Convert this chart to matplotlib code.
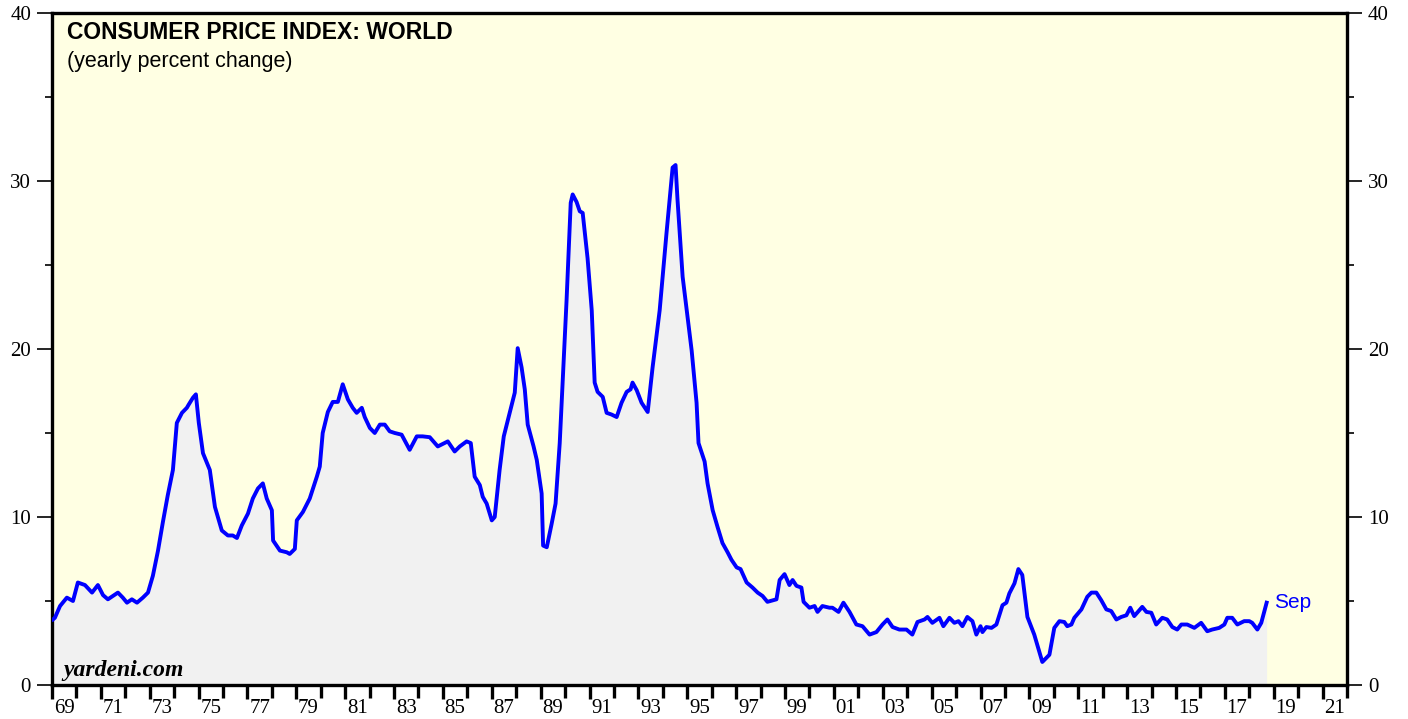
import matplotlib
matplotlib.use('Agg')
import matplotlib.pyplot as plt
import matplotlib.transforms as mtransforms

# yearly percent change of world CPI (decimal years)
years = [1969.04, 1969.12, 1969.33, 1969.61, 1969.86, 1970.06, 1970.35, 1970.64, 1970.88,
         1971.09, 1971.29, 1971.70, 1971.90, 1972.07, 1972.27, 1972.48, 1972.72, 1972.93,
         1973.13, 1973.34, 1973.54, 1973.74, 1973.95, 1974.11, 1974.32, 1974.52, 1974.60,
         1974.77, 1974.89, 1975.01, 1975.18, 1975.46, 1975.67, 1975.95, 1976.20, 1976.40,
         1976.57, 1976.77, 1977.02, 1977.22, 1977.43, 1977.63, 1977.79, 1978.00, 1978.05,
         1978.33, 1978.61, 1978.73, 1978.94, 1979.02, 1979.27, 1979.55, 1979.84, 1979.96,
         1980.08, 1980.29, 1980.49, 1980.70, 1980.90, 1981.11, 1981.31, 1981.47, 1981.68,
         1981.80, 1982.01, 1982.21, 1982.42, 1982.62, 1982.82, 1983.03, 1983.31, 1983.64,
         1983.93, 1984.17, 1984.46, 1984.79, 1985.20, 1985.48, 1985.69, 1985.97, 1986.14,
         1986.30, 1986.51, 1986.63, 1986.79, 1987.00, 1987.12, 1987.32, 1987.49, 1987.73,
         1987.94, 1988.06, 1988.22, 1988.35, 1988.47, 1988.71, 1988.84, 1989.04, 1989.10,
         1989.25, 1989.45, 1989.61, 1989.78, 1989.90, 1990.06, 1990.23, 1990.31, 1990.47,
         1990.60, 1990.72, 1990.92, 1991.09, 1991.21, 1991.33, 1991.54, 1991.70, 1991.90,
         1992.11, 1992.31, 1992.52, 1992.68, 1992.76, 1992.93, 1993.13, 1993.38, 1993.58,
         1993.87, 1994.15, 1994.40, 1994.52, 1994.60, 1994.81, 1995.18, 1995.38, 1995.46,
         1995.71, 1995.83, 1996.04, 1996.24, 1996.44, 1996.65, 1996.81, 1997.02, 1997.18,
         1997.43, 1997.67, 1997.88, 1998.08, 1998.28, 1998.65, 1998.78, 1998.98, 1999.18,
         1999.31, 1999.47, 1999.67, 1999.76, 2000.00, 2000.21, 2000.33, 2000.53, 2000.82,
         2000.94, 2001.19, 2001.39, 2001.64, 2001.92, 2002.17, 2002.46, 2002.74, 2002.99,
         2003.19, 2003.40, 2003.68, 2003.97, 2004.21, 2004.42, 2004.71, 2004.83, 2005.03,
         2005.32, 2005.48, 2005.73, 2005.93, 2006.10, 2006.26, 2006.46, 2006.67, 2006.83,
         2007.00, 2007.08, 2007.24, 2007.45, 2007.65, 2007.90, 2008.06, 2008.18, 2008.39,
         2008.55, 2008.71, 2008.92, 2009.20, 2009.53, 2009.82, 2010.02, 2010.23, 2010.43,
         2010.55, 2010.72, 2010.84, 2011.13, 2011.37, 2011.54, 2011.74, 2011.94, 2012.15,
         2012.35, 2012.56, 2012.76, 2012.97, 2013.13, 2013.29, 2013.62, 2013.79, 2013.99,
         2014.19, 2014.44, 2014.64, 2014.85, 2015.05, 2015.22, 2015.46, 2015.75, 2016.03,
         2016.28, 2016.48, 2016.77, 2016.98, 2017.10, 2017.30, 2017.51, 2017.79, 2018.00,
         2018.12, 2018.33, 2018.49, 2018.71]
cpi = [3.9, 4.0, 4.7, 5.2, 5.0, 6.1, 5.95, 5.5, 5.95,
       5.35, 5.1, 5.5, 5.2, 4.9, 5.1, 4.9, 5.2, 5.5,
       6.5, 8.0, 9.7, 11.3, 12.8, 15.6, 16.2, 16.5, 16.7,
       17.1, 17.3, 15.6, 13.8, 12.8, 10.6, 9.2, 8.9, 8.9,
       8.75, 9.5, 10.2, 11.1, 11.7, 12.0, 11.1, 10.4, 8.6,
       8.0, 7.9, 7.8, 8.1, 9.8, 10.3, 11.1, 12.4, 13.0,
       15.0, 16.25, 16.85, 16.85, 17.9, 17.0, 16.5, 16.2, 16.5,
       15.95, 15.3, 15.0, 15.5, 15.5, 15.1, 15.0, 14.9, 14.0,
       14.8, 14.8, 14.75, 14.2, 14.5, 13.9, 14.2, 14.5, 14.4,
       12.4, 11.9, 11.2, 10.8, 9.8, 10.0, 12.8, 14.8, 16.2,
       17.4, 20.05, 18.9, 17.6, 15.5, 14.2, 13.4, 11.4, 8.3,
       8.2, 9.6, 10.8, 14.4, 18.0, 22.9, 28.7, 29.2, 28.75,
       28.2, 28.1, 25.4, 22.3, 18.0, 17.45, 17.15, 16.2, 16.1,
       15.95, 16.8, 17.45, 17.6, 18.0, 17.55, 16.8, 16.25, 18.9,
       22.3, 26.9, 30.8, 30.95, 28.9, 24.3, 19.9, 16.8, 14.4,
       13.3, 12.0, 10.4, 9.4, 8.45, 7.9, 7.45, 7.0, 6.9,
       6.1, 5.8, 5.5, 5.3, 4.95, 5.1, 6.25, 6.6, 5.95,
       6.25, 5.9, 5.8, 4.95, 4.6, 4.7, 4.35, 4.7, 4.6,
       4.6, 4.35, 4.9, 4.35, 3.6, 3.5, 3.0, 3.15, 3.6,
       3.9, 3.45, 3.3, 3.3, 3.0, 3.75, 3.9, 4.05, 3.7,
       4.0, 3.5, 4.0, 3.7, 3.8, 3.5, 4.05, 3.8, 3.0,
       3.5, 3.15, 3.45, 3.4, 3.6, 4.75, 4.9, 5.45, 6.05,
       6.9, 6.55, 4.05, 3.0, 1.37, 1.8, 3.4, 3.8, 3.75,
       3.5, 3.6, 4.0, 4.5, 5.25, 5.5, 5.5, 5.05, 4.5,
       4.4, 3.9, 4.05, 4.15, 4.6, 4.1, 4.65, 4.35, 4.3,
       3.6, 4.0, 3.9, 3.45, 3.3, 3.6, 3.6, 3.4, 3.7,
       3.2, 3.3, 3.4, 3.6, 4.0, 4.0, 3.6, 3.8, 3.8,
       3.7, 3.3, 3.7, 4.9]

x_start, x_end = 1969, 2022
year_labels = [str(y)[2:] for y in range(1969, 2022, 2)]

plt.rcParams['font.family'] = ['Liberation Serif', 'DejaVu Serif']

fig = plt.figure(figsize=(14.08, 7.19), dpi=100)
ax = fig.add_axes([0.0369, 0.0473, 0.9198, 0.9346])
ax.set_facecolor('#ffffe3')

ax.fill_between(years, 0, cpi, color='#f1f1f1', lw=0, zorder=1)
ax.plot(years, cpi, color='#0000ff', lw=2.8, zorder=3, solid_joinstyle='round')
ax.text(years[-1] + 0.3, cpi[-1], 'Sep', color='#0000ff', fontsize=15,
        family='Liberation Sans', va='center', ha='left')

ax.set_xlim(x_start, x_end)
ax.set_ylim(0, 40)

for s in ax.spines.values():
    s.set_linewidth(2.4)
    s.set_color('black')

ax.set_yticks([0, 10, 20, 30, 40])
ax.set_yticks([5, 15, 25, 35], minor=True)
ax.tick_params(axis='y', which='major', direction='out', length=11, width=1.2,
               left=True, right=True, labelleft=True, labelright=True, labelsize=15, pad=4)
ax.tick_params(axis='y', which='minor', direction='out', length=5, width=1.2,
               left=True, right=True)

ax.set_xticks(list(range(1969, 2022, 2)))
ax.set_xticklabels(year_labels)
ax.set_xticks(list(range(1970, 2023, 2)), minor=True)
ax.tick_params(axis='x', which='major', direction='out', length=10, width=2.4,
               labelsize=15, pad=0)
ax.tick_params(axis='x', which='minor', direction='out', length=9, width=2.4)
# labels sit between the year ticks
offset = mtransforms.ScaledTranslation(0.122, 0, fig.dpi_scale_trans)
for lab in ax.get_xticklabels():
    lab.set_transform(lab.get_transform() + offset)

ax.text(0.012, 0.961, 'CONSUMER PRICE INDEX: WORLD', transform=ax.transAxes,
        family='Liberation Sans', fontsize=16.5, fontweight='bold', va='baseline', ha='left')
ax.text(0.012, 0.920, '(yearly percent change)', transform=ax.transAxes,
        family='Liberation Sans', fontsize=15.5, va='baseline', ha='left')
ax.text(0.009, 0.013, 'yardeni.com', transform=ax.transAxes,
        fontsize=17, fontweight='bold', style='italic', va='baseline', ha='left')

fig.savefig('out.png', dpi=100)
